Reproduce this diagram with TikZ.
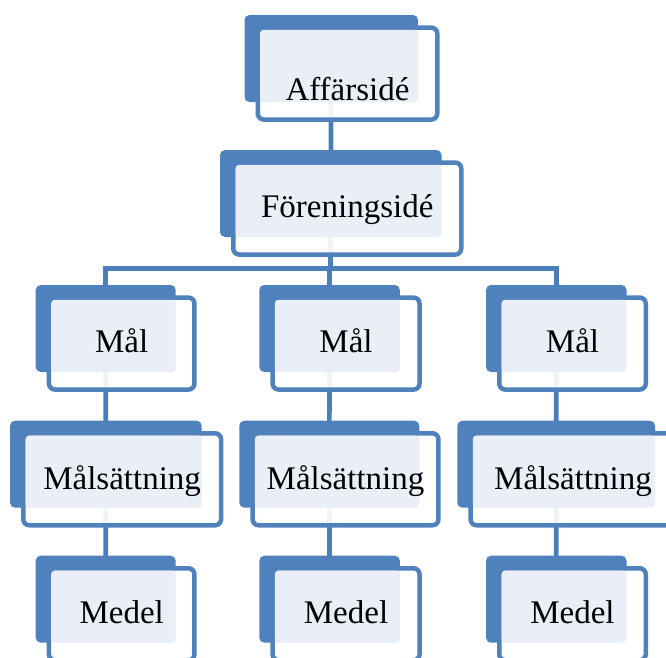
\documentclass[tikz,border=0pt]{standalone}
\usepackage{fontspec}
\setmainfont{Liberation Serif}
\usetikzlibrary{calc}
\definecolor{boxblue}{HTML}{4F81BD}
\definecolor{lightfill}{HTML}{EAEFF7}
\definecolor{linkblue}{HTML}{4A7EBB}
\pgfdeclarelayer{bg}
\pgfsetlayers{bg,main}
\tikzset{
  backbox/.style={rectangle, fill=boxblue, rounded corners=5pt, inner sep=0pt, outer sep=0pt},
  frontbox/.style={rectangle, draw=boxblue, line width=4.5pt, fill=white, fill opacity=0.92, rounded corners=6pt, inner sep=0pt, outer sep=0pt},
  lightbox/.style={fill=lightfill, rounded corners=4pt},
  lbl/.style={inner sep=0pt, font=\fontsize{33}{40}\selectfont, text=black},
  conn/.style={draw=linkblue, line width=4.7pt}
}
% #1 name, #2 left, #3 top, #4 back width, #5 front width, #6 baseline, #7 text
\newcommand\orgbox[7]{%
  \node[backbox, minimum width={#4pt}, minimum height=87pt, anchor=north west] (#1B) at (#2,#3) {};
  \node[frontbox, minimum width={#5pt-4.5pt}, minimum height=92pt, anchor=north west] (#1F) at ({#2+13.25},{#3+12.55}) {};
  \fill[lightbox] ($(#1F.north west)+(2.25,2.25)$) rectangle (#1B.south east);
  \node[lbl, anchor=base] (#1T) at ({#2+11+#5/2},#6) {#7};
}
\begin{document}
\begin{tikzpicture}[x=1pt, y=-1pt]
\clip (0,0) rectangle (666,657);
\path[use as bounding box] (0,0) rectangle (666,657);

\orgbox{aff}{244.5}{15}{173.5}{184}{100}{Affärsidé}
\orgbox{fore}{220}{150}{221.5}{232.5}{217}{Föreningsidé}

\orgbox{malA}{35.7}{285}{140}{150}{352.3}{Mål}
\orgbox{malB}{259.3}{285}{140.5}{151.5}{352.3}{Mål}
\orgbox{malC}{486}{285}{140.5}{151}{352.3}{Mål}

\orgbox{satA}{10}{420.7}{191.7}{202.3}{489}{Målsättning}
\orgbox{satB}{239.3}{420.7}{180}{190.4}{489}{Målsättning}
\orgbox{satC}{457.3}{420.7}{197.7}{209.4}{489}{Målsättning}

\orgbox{medA}{35.7}{555.7}{140}{150}{623.3}{Medel}
\orgbox{medB}{259.3}{555.7}{140.5}{151.5}{623.3}{Medel}
\orgbox{medC}{486}{555.7}{140.5}{151}{623.3}{Medel}

\begin{pgfonlayer}{bg}
  \coordinate (bus) at (foreB.center |- 0,268.3);
  \draw[conn] (affB.center) -- (foreB.center);
  \draw[conn] (foreB.center) -- (bus);
  \draw[conn] (malAB.center) |- (bus) -| (malCB.center);
  \draw[conn] (malBB.center) -- (malBB.center |- bus);
  \draw[conn] (malAB.center) -- (satAB.center) -- (medAB.center);
  \draw[conn] (malBB.center) -- (satBB.center) -- (medBB.center);
  \draw[conn] (malCB.center) -- (satCB.center) -- (medCB.center);
\end{pgfonlayer}
\end{tikzpicture}
\end{document}
